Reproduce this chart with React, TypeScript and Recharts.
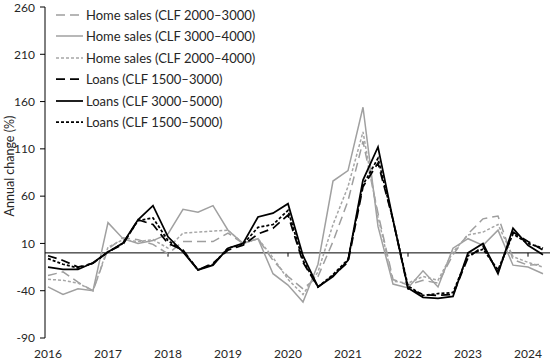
import { Legend, Line, LineChart, ReferenceLine, XAxis, YAxis } from "recharts";

const quarters = [
  "2016Q1", "2016Q2", "2016Q3", "2016Q4",
  "2017Q1", "2017Q2", "2017Q3", "2017Q4",
  "2018Q1", "2018Q2", "2018Q3", "2018Q4",
  "2019Q1", "2019Q2", "2019Q3", "2019Q4",
  "2020Q1", "2020Q2", "2020Q3", "2020Q4",
  "2021Q1", "2021Q2", "2021Q3", "2021Q4",
  "2022Q1", "2022Q2", "2022Q3", "2022Q4",
  "2023Q1", "2023Q2", "2023Q3", "2023Q4",
  "2024Q1", "2024Q2"
];
const yearTicks = ["2016Q1", "2017Q1", "2018Q1", "2019Q1", "2020Q1", "2021Q1", "2022Q1", "2023Q1", "2024Q1"];
const axisMarks = ["2018Q1", "2020Q1", "2022Q1", "2024Q1"];
const yTicks = [-90, -40, 10, 60, 110, 160, 210, 260];

const homeSales2000to3000 = [
  -24, -20, -31, -40, 4, 16, 14, 9, -1, 12, 12, 12, 21, 10, 15, -8, -25,
  -38, -25, 12, 55, 118, 42, -28, -34, -29, -32, -2, 20, 36, 39, -7, -13, -12
];
const homeSales3000to4000 = [
  -36, -44, -38, -40, 32, 15, 10, 13, 20, 46, 43, 50, 24, 10, 15, -22, -34,
  -52, -12, 76, 87, 154, 28, -33, -37, -19, -36, 5, 15, 8, 24, -13, -15, -22
];
const homeSales2000to4000 = [
  -28, -29, -32, -40, 6, 14, 12, 14, 5, 21, 22, 23, 24, 10, 15, -5, -28,
  -44, -20, 30, 70, 128, 38, -30, -32, -25, -29, 1, 19, 22, 30, -4, -10, -15
];
const loans1500to3000 = [
  -3, -8, -15, -11, 1, 9, 35, 30, 10, 3, -18, -11, 3, 8, 20, 26, 40,
  -10, -36, -24, -10, 70, 95, 35, -38, -44, -45, -44, -5, 7, -20, 22, 12, 3
];
const loans3000to5000 = [
  -15, -17.5, -17.5, -10.5, 1, 10.5, 35, 50, 17, 1, -18, -13, 5, 10, 38, 42, 52,
  -3, -36, -25, -8, 77, 112, 35, -37, -47, -48, -46, 0, 10, -22, 26, 8, -2
];
const loans1500to5000 = [
  -6, -12, -16, -11, 1, 10, 34, 37, 13, 2, -18, -12, 5, 9, 27, 30, 45,
  -8, -36, -23, -7, 72, 100, 35, -35, -45, -43, -42, -3, 4, -18, 20, 10, 5
];

const series = [
  { key: "hs1", name: "Home sales (CLF 2000–3000)", values: homeSales2000to3000, color: "#9e9e9e", dash: "9 5", width: 1.5 },
  { key: "hs2", name: "Home sales (CLF 3000–4000)", values: homeSales3000to4000, color: "#a0a0a0", dash: undefined, width: 1.5 },
  { key: "hs3", name: "Home sales (CLF 2000–4000)", values: homeSales2000to4000, color: "#a6a6a6", dash: "3 2", width: 1.5 },
  { key: "ln1", name: "Loans (CLF 1500–3000)", values: loans1500to3000, color: "#000", dash: "9 5", width: 1.75 },
  { key: "ln2", name: "Loans (CLF 3000–5000)", values: loans3000to5000, color: "#000", dash: undefined, width: 1.75 },
  { key: "ln3", name: "Loans (CLF 1500–5000)", values: loans1500to5000, color: "#000", dash: "3 2", width: 1.75 }
];

const data = quarters.map((quarter, i) => {
  const row: Record<string, string | number> = { quarter };
  series.forEach((s) => {
    row[s.key] = s.values[i];
  });
  return row;
});

const FONT = "Lato, 'Open Sans', sans-serif";

function ChartLegend() {
  return (
    <div style={{ fontFamily: FONT, fontSize: 13, color: "#262626" }}>
      {series.map((s) => (
        <div key={s.key} style={{ display: "flex", alignItems: "center", height: 21.5 }}>
          <svg width={30} height={10} style={{ marginRight: 1 }}>
            <line x1={1} x2={28} y1={5} y2={5} stroke={s.color} strokeWidth={s.width} strokeDasharray={s.dash} />
          </svg>
          <span>{s.name}</span>
        </div>
      ))}
    </div>
  );
}

export default function App() {
  return (
    <div style={{ position: "absolute", left: 0, top: 0, width: 550, height: 362, background: "#fff" }}>
      <LineChart width={550} height={362} data={data} margin={{ top: 7, right: 0, bottom: 0, left: 0 }}>
        <XAxis
          dataKey="quarter"
          ticks={yearTicks}
          interval={0}
          tickFormatter={(q: string) => q.slice(0, 4)}
          axisLine={false}
          tickLine={false}
          tickMargin={5}
          height={24}
          padding={{ left: 3, right: 7 }}
          tick={{ fontFamily: FONT, fontSize: 12, fill: "#262626" }}
        />
        <YAxis
          domain={[-90, 260]}
          ticks={yTicks}
          width={45}
          tickSize={5}
          tickMargin={5}
          axisLine={{ stroke: "#000" }}
          tickLine={{ stroke: "#000" }}
          tick={{ fontFamily: FONT, fontSize: 12, fill: "#262626" }}
          label={{
            content: () => (
              <text
                x={14}
                y={166}
                transform="rotate(-90 14 166)"
                textAnchor="middle"
                fontFamily={FONT}
                fontSize={12.5}
                fill="#262626"
              >
                Annual change (%)
              </text>
            )
          }}
        />
        <ReferenceLine y={0} stroke="#000" strokeWidth={1} />
        {axisMarks.map((q) => (
          <ReferenceLine key={q} segment={[{ x: q, y: 0 }, { x: q, y: -4 }]} stroke="#000" strokeWidth={1} />
        ))}
        {series.map((s) => (
          <Line
            key={s.key}
            type="linear"
            dataKey={s.key}
            name={s.name}
            stroke={s.color}
            strokeWidth={s.width}
            strokeDasharray={s.dash}
            dot={false}
            activeDot={false}
            isAnimationActive={false}
          />
        ))}
        <Legend
          layout="vertical"
          align="center"
          verticalAlign="middle"
          wrapperStyle={{ left: 55, top: 4, width: "auto" }}
          content={() => <ChartLegend />}
        />
      </LineChart>
    </div>
  );
}
